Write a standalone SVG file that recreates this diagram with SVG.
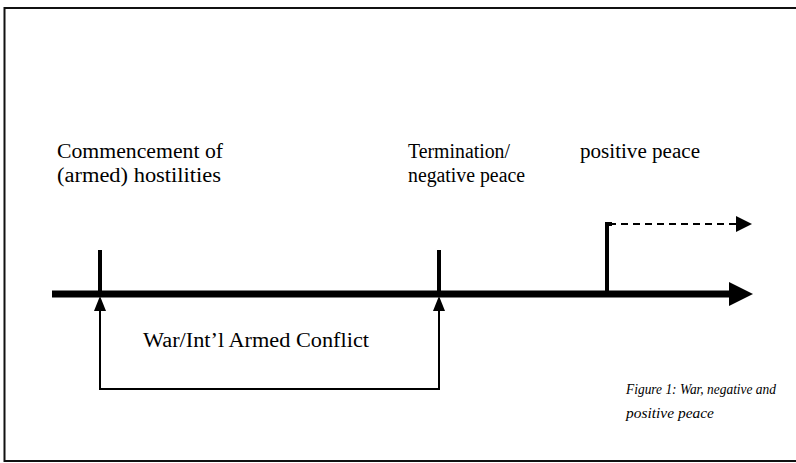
<svg xmlns="http://www.w3.org/2000/svg" width="796" height="463" viewBox="0 0 796 463">
<style>
.t{font-family:"Liberation Serif","Times New Roman",serif;font-size:20px;fill:#000}
.cap{font-family:"Liberation Serif","DejaVu Serif","Times New Roman",serif;font-size:14.5px;font-style:italic;fill:#000}
.thin{stroke:#000;stroke-width:2;fill:none}
.tick{stroke:#000;stroke-width:4;fill:none}
</style>
<defs>
<marker id="big" markerWidth="24" markerHeight="24" refX="0" refY="12" orient="auto" markerUnits="userSpaceOnUse">
<path d="M0,0 L24,12 L0,24 Z" fill="#000"/>
</marker>
<marker id="dash" markerWidth="16" markerHeight="16" refX="0" refY="8" orient="auto" markerUnits="userSpaceOnUse">
<path d="M0,0 L16,8 L0,16 Z" fill="#000"/>
</marker>
</defs>
<g id="frame">
<path d="M796,8 H4.5 V461 H796" fill="none" stroke="#111" stroke-width="2"/>
</g>
<g id="connectors">
<line id="axis" x1="52" y1="294" x2="729" y2="294" stroke="#000" stroke-width="7" marker-end="url(#big)"/>
<path id="war-bracket" class="thin" d="M100,310 V389 H439 V310"/>
<path d="M100,296 L94,311 L106,311 Z" fill="#000"/>
<path d="M439,296 L433,311 L445,311 Z" fill="#000"/>
<line x1="609" y1="224" x2="736" y2="224" stroke="#000" stroke-width="2" stroke-dasharray="7,5" marker-end="url(#dash)"/>
</g>
<g id="commencement">
<line class="tick" x1="100" y1="250" x2="100" y2="294"/>
<text class="t" x="57" y="158" textLength="166" lengthAdjust="spacingAndGlyphs">Commencement of</text>
<text class="t" x="57" y="182" textLength="164" lengthAdjust="spacingAndGlyphs">(armed) hostilities</text>
</g>
<g id="termination">
<line class="tick" x1="439" y1="250" x2="439" y2="294"/>
<text class="t" x="408" y="158" textLength="102" lengthAdjust="spacingAndGlyphs">Termination/</text>
<text class="t" x="408" y="182" textLength="117" lengthAdjust="spacingAndGlyphs">negative peace</text>
</g>
<g id="positive-peace">
<path class="tick" d="M607,294 V224 H612"/>
<text class="t" x="580" y="158" textLength="120" lengthAdjust="spacingAndGlyphs">positive peace</text>
</g>
<g id="war-label">
<text class="t" x="143" y="347" textLength="226" lengthAdjust="spacingAndGlyphs">War/Int’l Armed Conflict</text>
</g>
<g id="caption">
<text class="cap" x="626" y="394" textLength="150" lengthAdjust="spacingAndGlyphs">Figure 1: War, negative and</text>
<text class="cap" x="626" y="418" textLength="88" lengthAdjust="spacingAndGlyphs">positive peace</text>
</g>
</svg>
